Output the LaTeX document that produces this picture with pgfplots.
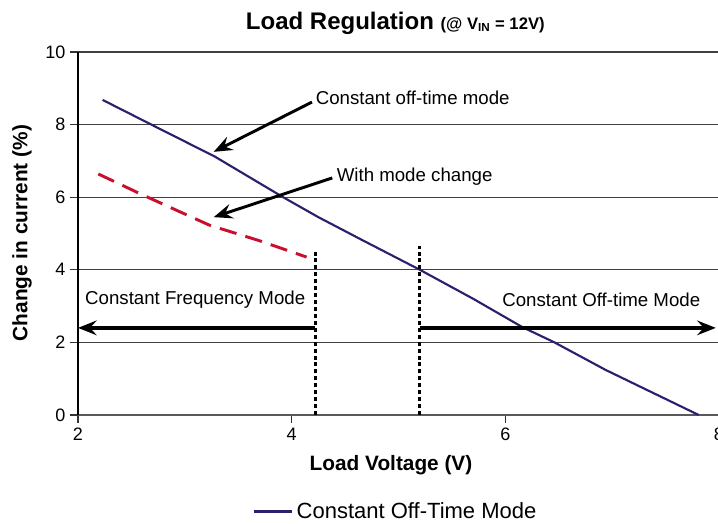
\documentclass[border=0pt]{standalone}
\usepackage{fontspec}
\setmainfont{Liberation Sans}
\usepackage{pgfplots}
\pgfplotsset{compat=1.18}
\usetikzlibrary{arrows.meta}
\definecolor{navy}{RGB}{45,30,110}
\definecolor{crim}{RGB}{200,16,46}
\begin{document}
\begin{tikzpicture}
\useasboundingbox (-58.5pt,-81.75pt) rectangle (480pt,311.25pt);
\begin{axis}[
  at={(0,0)}, anchor=south west, scale only axis,
  width=480.75pt, height=272.25pt,
  xmin=2, xmax=8, ymin=0, ymax=10,
  xtick={2,4,6,8}, ytick={0,2,4,6,8,10},
  axis x line*=bottom, axis y line*=left,
  x axis line style={draw=black!65, line width=1.8pt},
  y axis line style={draw=black, line width=1pt},
  ymajorgrids, grid style={draw=black!75, line width=0.8pt},
  tick style={black!80, line width=0.8pt},
  major tick length=6pt, tick align=outside,
  /pgf/number format/assume math mode=true,
  ticklabel style={font=\fontsize{13.5}{16}\selectfont},
  legend style={at={(0.2715,-0.266)}, anchor=west, draw=none, fill=none,
    inner sep=0pt, font=\fontsize{16.5}{19}\selectfont},
  legend image code/.code={\draw[#1, line width=2.3pt] (0pt,0pt) -- (29pt,0pt);},
  clip=false,
]
\addplot[navy, line width=1.6pt] coordinates {
(2.23,8.68) (2.7,7.98) (3.28,7.12) (3.92,6.0) (4.25,5.45) (4.64,4.85)
(5.2,4.0) (5.7,3.2) (6.16,2.42) (6.46,2.0) (6.94,1.24) (7.81,0)};
\addlegendentry{Constant Off-Time Mode}
\addplot[crim, line width=2.2pt, dash pattern=on 13pt off 7pt, forget plot] coordinates {
(2.19,6.64) (2.6,6.07) (3.23,5.23) (3.7,4.8) (4.14,4.35)};
% mode boundaries
\draw[black, line width=2.2pt, dash pattern=on 3pt off 2.2pt] (axis cs:4.22,0) -- (axis cs:4.22,4.55);
\draw[black, line width=2.2pt, dash pattern=on 3pt off 2.2pt] (axis cs:5.2,0) -- (axis cs:5.2,4.65);
\draw[black, line width=2.6pt, -{Stealth[length=14pt,width=11pt,inset=5pt]}] (axis cs:4.22,2.4) -- (axis cs:2.0,2.4);
\draw[black, line width=2.6pt, -{Stealth[length=14pt,width=11pt,inset=5pt]}] (axis cs:5.2,2.4) -- (axis cs:7.97,2.4);
\node[anchor=west, inner sep=0pt, font=\fontsize{14}{17}\selectfont] at (axis cs:2.065,3.17) {Constant Frequency Mode};
\node[anchor=west, inner sep=0pt, font=\fontsize{14}{17}\selectfont] at (axis cs:5.97,3.17) {Constant Off-time Mode};
% annotations
\draw[black, line width=2.2pt, -{Stealth[length=14pt,width=11pt,inset=5pt]}] (axis cs:4.19,8.62) -- (axis cs:3.27,7.25);
\draw[black, line width=2.2pt, -{Stealth[length=14pt,width=11pt,inset=5pt]}] (axis cs:4.38,6.53) -- (axis cs:3.27,5.45);
\node[anchor=west, inner sep=0pt, font=\fontsize{14}{17}\selectfont] at (axis cs:4.224,8.73) {Constant off-time mode};
\node[anchor=west, inner sep=0pt, font=\fontsize{14}{17}\selectfont] at (axis cs:4.42,6.56) {With mode change};
\end{axis}
\node[font=\bfseries\fontsize{18}{21}\selectfont] at (238pt,294pt) {Load Regulation {\fontsize{12.5}{15}\selectfont(@ V\textsubscript{IN} = 12V)}};
\node[font=\bfseries\fontsize{15.6}{18}\selectfont] at (234.75pt,-37.5pt) {Load Voltage (V)};
\node[font=\bfseries\fontsize{15.6}{18}\selectfont, rotate=90] at (-42pt,136.5pt) {Change in current (\%)};
\end{tikzpicture}
\end{document}
